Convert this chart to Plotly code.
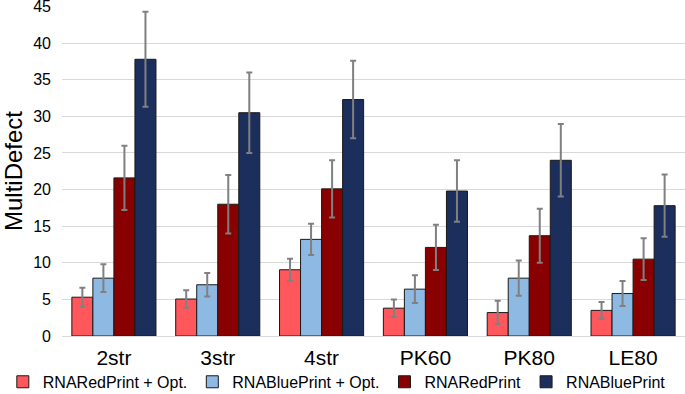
import plotly.graph_objects as go

categories = ["2str", "3str", "4str", "PK60", "PK80", "LE80"]
series_names = ["RNARedPrint + Opt.", "RNABluePrint + Opt.", "RNARedPrint", "RNABluePrint"]
red_opt = [5.3, 5.05, 9.05, 3.8, 3.2, 3.5]
red_opt_err = [1.3, 1.2, 1.5, 1.2, 1.6, 1.15]
blue_opt = [7.9, 7.0, 13.2, 6.4, 7.9, 5.8]
blue_opt_err = [1.9, 1.6, 2.15, 1.9, 2.4, 1.7]
red = [21.6, 18.0, 20.1, 12.1, 13.7, 10.5]
red_err = [4.4, 4.0, 3.9, 3.1, 3.7, 2.85]
blue = [37.8, 30.5, 32.3, 19.8, 24.0, 17.8]
blue_err = [6.5, 5.5, 5.3, 4.2, 4.95, 4.25]
y_ticks = [0, 5, 10, 15, 20, 25, 30, 35, 40, 45]

colors = ["#FF575C", "#8DB9E3", "#880000", "#1C2E5C"]
values = [red_opt, blue_opt, red, blue]
errors = [red_opt_err, blue_opt_err, red_err, blue_err]

FONT = "Liberation Sans, Arial, sans-serif"

fig = go.Figure()
for name, v, e, c in zip(series_names, values, errors, colors):
    fig.add_trace(go.Bar(
        x=categories, y=v, name=name,
        marker=dict(color=c, line=dict(color="#1a1a1a", width=1)),
        error_y=dict(type="data", array=e, visible=True, color="#808080",
                     thickness=2, width=3),
    ))

fig.update_layout(
    width=685, height=394,
    margin=dict(l=62, r=0, t=6, b=58, autoexpand=False),
    paper_bgcolor="white", plot_bgcolor="white",
    barmode="group", bargap=0.19, bargroupgap=0,
    font=dict(family=FONT, color="#000000"),
    showlegend=True,
    legend=dict(orientation="h", x=-0.095, xanchor="left", y=-0.139, yanchor="middle",
                font=dict(size=16, family=FONT), traceorder="normal",
                itemwidth=30, bgcolor="rgba(0,0,0,0)"),
    xaxis=dict(tickfont=dict(size=21, family=FONT), showline=True,
               linecolor="#d9d9d9", linewidth=1, ticks="", showgrid=False,
               ticklabelstandoff=3),
    yaxis=dict(range=[0, 45.08], tickvals=y_ticks, tickfont=dict(size=16, family=FONT),
               showgrid=True, gridcolor="#d9d9d9", gridwidth=1, zeroline=False,
               ticks="", ticklabelstandoff=10, ticklabeloverflow="allow",
               title=dict(text="MultiDefect", font=dict(size=24, family=FONT), standoff=6)),
)

fig.write_html("out.html", config={"displayModeBar": False},
               post_script="document.body.style.margin='0';document.body.style.overflow='hidden';")
